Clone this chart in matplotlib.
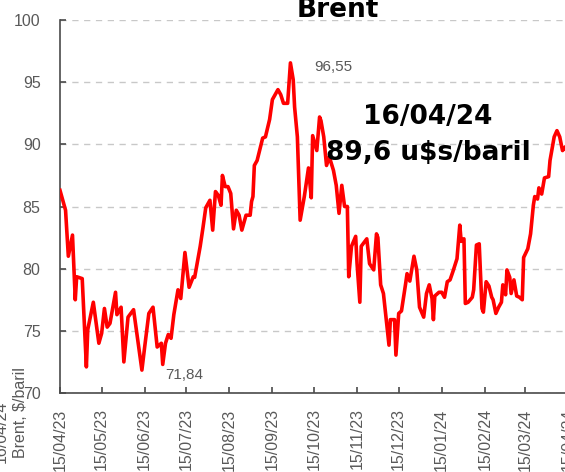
import matplotlib
matplotlib.use("Agg")
import matplotlib.pyplot as plt
import pandas as pd

dates = [
    "2023-04-15", "2023-04-19", "2023-04-21", "2023-04-24", "2023-04-26", "2023-04-27",
    "2023-05-01", "2023-05-04", "2023-05-05", "2023-05-09", "2023-05-13", "2023-05-15",
    "2023-05-17", "2023-05-19", "2023-05-21", "2023-05-25", "2023-05-26", "2023-05-29",
    "2023-05-31", "2023-06-03", "2023-06-07", "2023-06-13", "2023-06-15", "2023-06-18",
    "2023-06-21", "2023-06-24", "2023-06-27", "2023-06-28", "2023-06-30", "2023-07-02",
    "2023-07-04", "2023-07-06", "2023-07-09", "2023-07-11", "2023-07-14", "2023-07-17",
    "2023-07-20", "2023-07-21", "2023-07-25", "2023-07-27", "2023-07-29", "2023-08-01",
    "2023-08-03", "2023-08-05", "2023-08-07", "2023-08-09", "2023-08-10", "2023-08-12",
    "2023-08-14", "2023-08-16", "2023-08-18", "2023-08-20", "2023-08-22", "2023-08-24",
    "2023-08-27", "2023-08-30", "2023-08-31", "2023-09-01", "2023-09-02", "2023-09-04",
    "2023-09-06", "2023-09-08", "2023-09-10", "2023-09-13", "2023-09-15", "2023-09-19",
    "2023-09-21", "2023-09-23", "2023-09-26", "2023-09-28", "2023-09-30", "2023-10-01",
    "2023-10-03", "2023-10-05", "2023-10-08", "2023-10-11", "2023-10-13", "2023-10-14",
    "2023-10-17", "2023-10-19", "2023-10-20", "2023-10-22", "2023-10-24", "2023-10-26",
    "2023-10-29", "2023-10-31", "2023-11-02", "2023-11-04", "2023-11-06", "2023-11-08",
    "2023-11-09", "2023-11-11", "2023-11-14", "2023-11-15", "2023-11-17", "2023-11-18",
    "2023-11-22", "2023-11-24", "2023-11-27", "2023-11-29", "2023-11-30", "2023-12-02",
    "2023-12-04", "2023-12-06", "2023-12-08", "2023-12-09", "2023-12-12", "2023-12-13",
    "2023-12-15", "2023-12-17", "2023-12-20", "2023-12-21", "2023-12-23", "2023-12-26",
    "2023-12-28", "2023-12-30", "2024-01-02", "2024-01-04", "2024-01-06", "2024-01-08",
    "2024-01-09", "2024-01-10", "2024-01-13", "2024-01-15", "2024-01-17", "2024-01-19",
    "2024-01-21", "2024-01-23", "2024-01-26", "2024-01-28", "2024-01-29", "2024-01-31",
    "2024-02-01", "2024-02-03", "2024-02-06", "2024-02-07", "2024-02-09", "2024-02-11",
    "2024-02-13", "2024-02-14", "2024-02-16", "2024-02-18", "2024-02-20", "2024-02-21",
    "2024-02-23", "2024-02-25", "2024-02-27", "2024-02-28", "2024-03-01", "2024-03-02",
    "2024-03-04", "2024-03-05", "2024-03-07", "2024-03-09", "2024-03-11", "2024-03-13",
    "2024-03-14", "2024-03-17", "2024-03-19", "2024-03-21", "2024-03-22", "2024-03-24",
    "2024-03-25", "2024-03-27", "2024-03-29", "2024-04-01", "2024-04-02", "2024-04-05",
    "2024-04-07", "2024-04-09", "2024-04-11", "2024-04-13", "2024-04-14", "2024-04-16",
]
prices = [
    86.3, 84.7, 81.0, 82.7, 77.5, 79.35,
    79.2, 72.1, 75.1, 77.3, 74.0, 74.8,
    76.8, 75.3, 75.6, 78.1, 76.3, 76.9,
    72.5, 76.1, 76.7, 71.84, 73.7, 76.4,
    76.9, 73.7, 74.0, 72.3, 74.0, 74.7,
    74.4, 76.3, 78.3, 77.6, 81.3, 78.5,
    79.35, 79.3, 81.8, 83.3, 84.9, 85.5,
    83.1, 86.2, 85.9, 85.1, 87.5, 86.6,
    86.6, 86.05, 83.2, 84.7, 84.3, 83.1,
    84.3, 84.3, 85.4, 85.8, 88.3, 88.7,
    89.6, 90.5, 90.6, 92.0, 93.6, 94.4,
    94.0, 93.3, 93.3, 96.55, 95.2, 93.0,
    90.6, 83.9, 85.8, 88.1, 85.7, 90.7,
    89.5, 92.2, 91.9, 90.6, 88.3, 89.0,
    87.9, 86.7, 84.45, 86.7, 85.0, 85.0,
    79.35, 81.8, 82.6, 80.4, 77.3, 81.8,
    82.4, 80.4, 79.9, 82.8, 82.5, 78.7,
    78.0, 75.9, 73.85, 75.9, 75.9, 73.05,
    76.4, 76.6, 78.8, 79.6, 79.0, 81.0,
    79.9, 76.9, 76.1, 78.0, 78.7, 77.6,
    75.9, 77.8, 78.1, 78.1, 77.7, 78.95,
    79.1, 79.75, 80.8, 83.5, 82.2, 82.4,
    77.2, 77.3, 77.7, 78.3, 81.9, 82.0,
    76.8, 76.5, 78.95, 78.6, 77.7, 77.5,
    76.4, 76.9, 77.3, 78.7, 77.9, 79.9,
    79.3, 78.0, 79.1, 77.8, 77.7, 77.5,
    80.9, 81.6, 82.8, 85.1, 85.8, 85.6,
    86.5, 86.0, 87.3, 87.4, 88.7, 90.6,
    91.1, 90.6, 89.5, 89.8, 89.5, 89.6,
]
tick_dates = ["2023-04-15", "2023-05-15", "2023-06-15", "2023-07-15", "2023-08-15",
              "2023-09-15", "2023-10-15", "2023-11-15", "2023-12-15", "2024-01-15",
              "2024-02-15", "2024-03-15", "2024-04-15"]
y_ticks = [70, 75, 80, 85, 90, 95, 100]

title = "Brent"
ylabel = "Brent, $/baril"
side_label = "16/04/24"
callout_date = "16/04/24"
callout_value = "89,6 u$s/baril"
max_label = "96,55"
min_label = "71,84"

W, H = 565, 472
fig = plt.figure(figsize=(W / 100, H / 100), dpi=100)
ax = fig.add_axes([60 / W, 79 / H, 515 / W, 373 / H])

x = pd.to_datetime(dates)
ax.plot(x, prices, color="#ff0000", lw=2.6, solid_joinstyle="round", zorder=3)

ax.set_xlim(pd.Timestamp("2023-04-15"), pd.Timestamp("2024-04-20"))
ax.set_ylim(70, 100)
ax.set_yticks(y_ticks)
ax.set_yticklabels([str(v) for v in y_ticks])
td = pd.to_datetime(tick_dates)
ax.set_xticks(td)
ax.set_xticklabels([d.strftime("%d/%m/%y") for d in td], rotation=90)

gray = "#595959"
axis_gray = "#4a4a4a"
for s in ["top", "right"]:
    ax.spines[s].set_visible(False)
for s in ["left", "bottom"]:
    ax.spines[s].set_color(axis_gray)
    ax.spines[s].set_linewidth(1.2)
ax.tick_params(axis="both", direction="in", length=4, width=1.2, color=axis_gray,
               labelcolor=gray, labelsize=11.5, labelfontfamily="Liberation Sans")
ax.tick_params(axis="y", pad=14)
ax.tick_params(axis="x", pad=11)
ax.yaxis.grid(True, linestyle=(0, (4.5, 4)), color="#c8c8c8", lw=1)
ax.set_axisbelow(True)

bold = dict(ha="center", va="baseline", fontsize=19, fontweight="bold",
            family="DejaVu Sans", color="black")
fig.text(338 / W, 1 - 17 / H, title, **bold)
fig.text(428 / W, 1 - 124 / H, callout_date, **bold)
fig.text(428 / W, 1 - 160 / H, callout_value, **bold)
fig.text(333 / W, 1 - 67 / H, max_label, ha="center", va="center", fontsize=11,
         family="Liberation Sans", color=gray)
fig.text(184 / W, 1 - 375 / H, min_label, ha="center", va="center", fontsize=11,
         family="Liberation Sans", color=gray)
fig.text(21 / W, 1 - 413 / H, ylabel, ha="center", va="center", rotation=90,
         fontsize=11.5, family="Liberation Sans", color=gray)
fig.text(1 / W, 1 - 432 / H, side_label, ha="center", va="center", rotation=90,
         fontsize=11.5, family="Liberation Sans", color=gray)

fig.savefig("out.png", dpi=100)
